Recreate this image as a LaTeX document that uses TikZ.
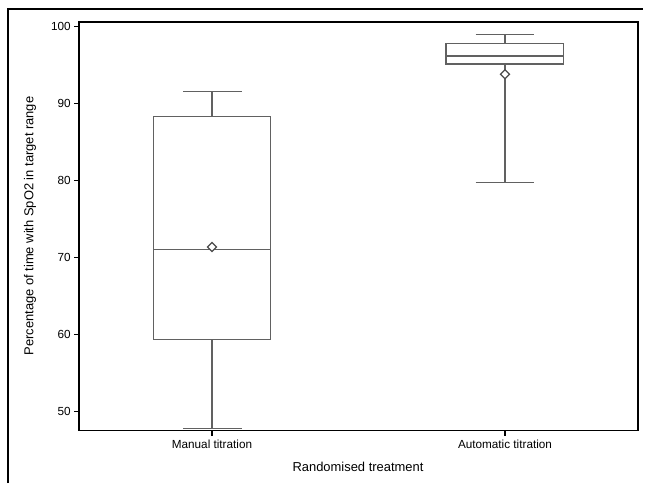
\documentclass[tikz,border=0pt]{standalone}
\usepackage{fontspec}
\setmainfont{Liberation Sans}
\begin{document}
\begin{tikzpicture}[x=0.75pt,y=-0.75pt,
  boxline/.style={draw=black!62,line width=1.0pt},
  axisline/.style={draw=black,line width=0.9pt},
  ticklab/.style={font=\fontsize{8.8pt}{10pt}\selectfont,inner sep=0pt},
  axlab/.style={font=\fontsize{9.7pt}{11pt}\selectfont,inner sep=0pt},
  meanmark/.style={draw=black!70,line width=0.9pt,fill=white}]
\useasboundingbox (0,0) rectangle (646,483);
% outer frame (partial)
\draw[line width=0.9pt] (8,483) -- (8,9) -- (643,9);
% plot area
\draw[axisline] (79,22) rectangle (638,430.7);
% y ticks
\foreach \v/\yy in {100/26.7,90/103.7,80/180.7,70/257.7,60/334.7,50/411.7}{
  \draw[axisline] (74,\yy) -- (79,\yy);
  \node[ticklab,anchor=east] (yt\v) at (71,\yy) {\v};
}
% x ticks
\draw[axisline] (212,430.7) -- (212,436);
\draw[axisline] (505,430.7) -- (505,436);
\node[ticklab,anchor=north] (xt1) at (212,440) {Manual titration};
\node[ticklab,anchor=north] (xt2) at (505,440) {Automatic titration};
\node[axlab] (xlab) at (358,467) {Randomised treatment};
\node[axlab,rotate=90] (ylab) at (30,226) {Percentage of time with SpO2 in target range};
% manual box
\draw[boxline] (183.3,91.7) -- (241.7,91.7);
\draw[boxline] (212,91.7) -- (212,116.7);
\draw[boxline] (153.3,116.7) rectangle (270.7,339.7);
\draw[boxline] (153.3,249.3) -- (270.7,249.3);
\draw[boxline] (212,339.7) -- (212,428.7);
\draw[boxline] (183.3,428.7) -- (241.7,428.7);
\draw[meanmark] (212,242.5) -- (216.5,247) -- (212,251.5) -- (207.5,247) -- cycle;
% automatic box
\draw[boxline] (475.7,34.3) -- (534,34.3);
\draw[boxline] (505,34.3) -- (505,43.3);
\draw[boxline] (446,43.3) rectangle (563.3,64);
\draw[boxline] (446,56) -- (563.3,56);
\draw[boxline] (505,64) -- (505,182.7);
\draw[boxline] (475.7,182.7) -- (534,182.7);
\draw[meanmark] (505,69.8) -- (509.5,74.3) -- (505,78.8) -- (500.5,74.3) -- cycle;
\end{tikzpicture}
\end{document}
